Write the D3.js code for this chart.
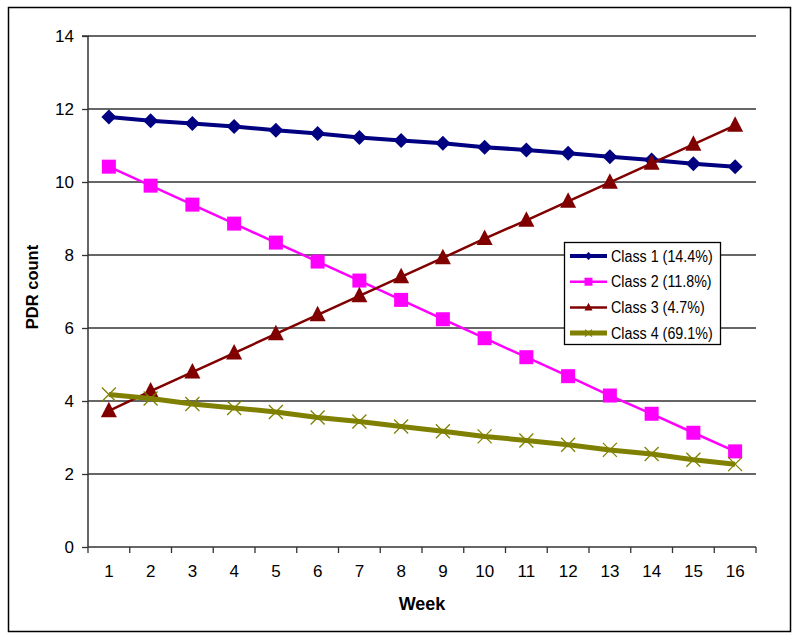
<!DOCTYPE html>
<html><head><meta charset="utf-8">
<script src="https://cdn.jsdelivr.net/npm/d3@7"></script>
<style>body{margin:0;background:#fff}svg{display:block}text{font-family:Arial,"Liberation Sans",sans-serif}</style>
</head><body><svg id="c" width="800" height="641"></svg>
<script>
const weeks = [1,2,3,4,5,6,7,8,9,10,11,12,13,14,15,16];
const class1 = [11.78,11.68,11.60,11.52,11.42,11.33,11.22,11.14,11.06,10.95,10.88,10.79,10.69,10.60,10.50,10.42];
const class2 = [10.42,9.90,9.38,8.86,8.34,7.82,7.30,6.77,6.24,5.72,5.20,4.68,4.15,3.65,3.13,2.62];
const class3 = [3.73,4.27,4.79,5.31,5.84,6.36,6.88,7.40,7.92,8.45,8.95,9.47,9.99,10.51,11.03,11.55];
const class4 = [4.18,4.07,3.92,3.81,3.70,3.55,3.44,3.30,3.17,3.03,2.92,2.80,2.66,2.55,2.39,2.27];
const seriesNames = ["Class 1 (14.4%)","Class 2 (11.8%)","Class 3 (4.7%)","Class 4 (69.1%)"];
const yTicks = [0,2,4,6,8,10,12,14];

const series = [
  {name:seriesNames[0], values:class1, color:"#000080", width:4, marker:"diamond"},
  {name:seriesNames[1], values:class2, color:"#FF00FF", width:2.5, marker:"square"},
  {name:seriesNames[2], values:class3, color:"#800000", width:2.5, marker:"triangle"},
  {name:seriesNames[3], values:class4, color:"#808000", width:5, marker:"x"}
];

const svg = d3.select("#c");
svg.append("rect").attr("x",8.5).attr("y",7.5).attr("width",782).attr("height",624)
  .attr("fill","#fff").attr("stroke","#000").attr("stroke-width",1.5);

const L=88, R=756, T=36, B=547;
const x = d3.scaleBand().domain(weeks).range([L,R]);
const y = d3.scaleLinear().domain([0,14]).range([B,T]);

// gridlines
svg.append("g").selectAll("line").data(yTicks.filter(d=>d>0)).join("line")
  .attr("x1",L).attr("x2",R).attr("y1",d=>y(d)).attr("y2",d=>y(d))
  .attr("stroke","#333").attr("stroke-width",1.3);

// y axis
const ya = svg.append("g").attr("transform",`translate(${L},0)`)
  .call(d3.axisLeft(y).tickValues(yTicks).tickSize(6).tickPadding(8));
ya.select(".domain").attr("stroke","#333").attr("stroke-width",1.5).attr("d",`M-6,${y(14)}H0V${B}`);
ya.selectAll(".tick line").attr("stroke","#333").attr("stroke-width",1.3);
ya.selectAll("text").attr("font-size",17).attr("fill","#000");

// x axis
const xa = svg.append("g").attr("transform",`translate(0,${B})`)
  .call(d3.axisBottom(x).tickSize(0).tickPadding(18));
xa.select(".domain").attr("stroke","#333").attr("stroke-width",1.5).attr("d",`M${L},0H${R}`);
xa.selectAll("text").attr("font-size",17).attr("fill","#000");
const edges = weeks.map(w=>x(w)).concat([R]);
xa.selectAll(".edge").data(edges).join("line").attr("class","edge")
  .attr("x1",d=>d).attr("x2",d=>d).attr("y1",0).attr("y2",6)
  .attr("stroke","#333").attr("stroke-width",1.3);

// axis titles
svg.append("text").attr("x",422).attr("y",610).attr("text-anchor","middle")
  .attr("font-size",18).attr("font-weight","bold").text("Week");
svg.append("text").attr("transform","translate(38,287) rotate(-90)").attr("text-anchor","middle")
  .attr("font-size",16.5).attr("font-weight","bold").text("PDR count");

const cx = w => x(w)+x.bandwidth()/2;

function drawMarker(g, type, color, px, py, s){
  if(type==="diamond"){
    g.append("path").attr("d",`M${px},${py-s}L${px+s},${py}L${px},${py+s}L${px-s},${py}Z`).attr("fill",color);
  } else if(type==="square"){
    g.append("rect").attr("x",px-s).attr("y",py-s).attr("width",2*s).attr("height",2*s).attr("fill",color);
  } else if(type==="triangle"){
    g.append("path").attr("d",`M${px},${py-s*1.15}L${px+s},${py+s*0.8}L${px-s},${py+s*0.8}Z`).attr("fill",color);
  } else {
    g.append("path").attr("d",`M${px-s},${py-s}L${px+s},${py+s}M${px-s},${py+s}L${px+s},${py-s}`)
      .attr("stroke",color).attr("stroke-width",1.3).attr("fill","none");
  }
}

const line = d3.line().x((d,i)=>cx(weeks[i])).y(d=>y(d));
series.forEach(s=>{
  const g = svg.append("g");
  g.append("path").datum(s.values).attr("d",line).attr("fill","none")
    .attr("stroke",s.color).attr("stroke-width",s.width).attr("stroke-linejoin","round");
  const sz = s.marker==="diamond"?7.5 : s.marker==="square"?7 : s.marker==="triangle"?8 : 7;
  s.values.forEach((v,i)=>drawMarker(g,s.marker,s.color,cx(weeks[i]),y(v),sz));
});

// legend
const lg = svg.append("g");
lg.append("rect").attr("x",564.5).attr("y",242.5).attr("width",156).attr("height",102)
  .attr("fill","#fff").attr("stroke","#000").attr("stroke-width",1.3);
series.forEach((s,i)=>{
  const yy = 256 + i*25.7;
  lg.append("line").attr("x1",570).attr("x2",607).attr("y1",yy).attr("y2",yy)
    .attr("stroke",s.color).attr("stroke-width",s.width);
  drawMarker(lg,s.marker,s.color,588.5,yy,s.marker==="x"?3.5:4);
  lg.append("text").attr("transform",`translate(611,${yy}) scale(1,1.12)`)
    .attr("dy","0.36em").attr("font-size",14.3).text(s.name);
});
</script></body></html>
